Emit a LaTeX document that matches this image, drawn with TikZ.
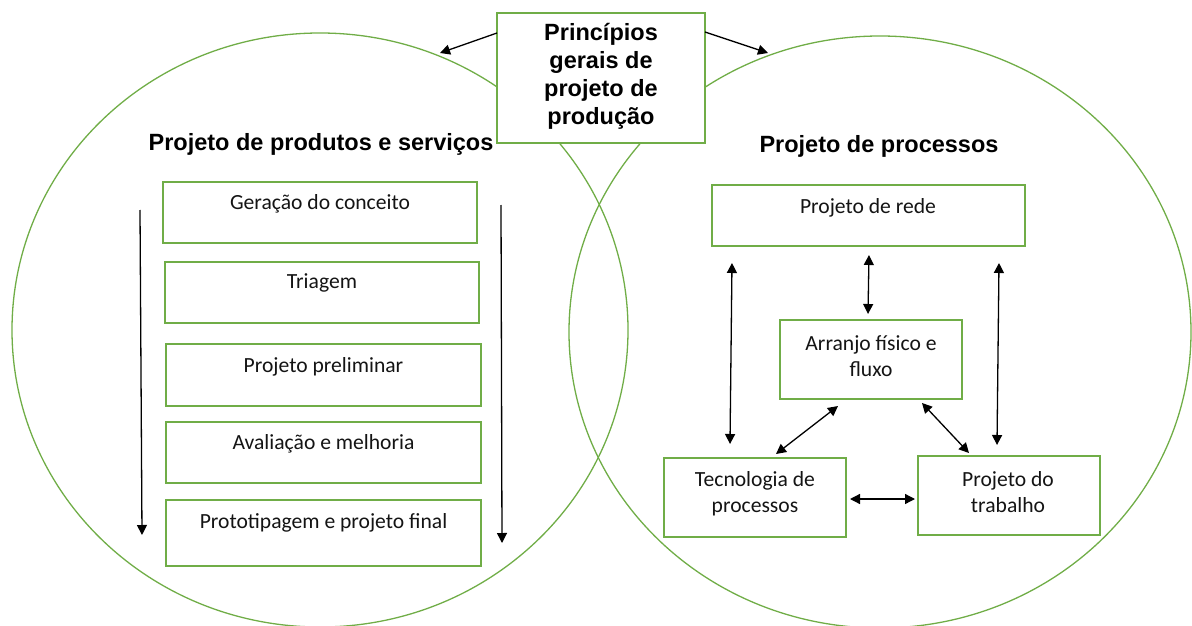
\documentclass[tikz,border=0pt]{standalone}
\usepackage{fontspec}
\setmainfont{Carlito}
\newfontfamily\headfont{Liberation Sans}
\usetikzlibrary{arrows.meta}
\definecolor{grn}{HTML}{70AD47}
\begin{document}
\begin{tikzpicture}[x=1pt,y=-1pt,
  ell/.style={draw=grn, line width=1.3pt},
  gbox/.style={draw=grn, line width=1.6pt, fill=white, rectangle, inner sep=0pt},
  body/.style={font=\fontsize{21.6}{26.4}\selectfont, text=black!92, align=center, inner sep=0pt},
  head/.style={font=\headfont\bfseries\fontsize{23.5}{28}\selectfont, inner sep=0pt, align=center},
  tip/.tip={Triangle[length=10pt,width=10pt]},
  arr/.style={-tip, line width=1.3pt},
  darr/.style={tip-tip, line width=1.3pt}]
\useasboundingbox (0,0) rectangle (1192,626);
\begin{scope}
\clip (0,0) rectangle (1192,626);
\draw[ell] (320,330) ellipse [x radius=308, y radius=297];
\draw[ell] (880,332) ellipse [x radius=311, y radius=296];
\end{scope}

% top box
\node[gbox, minimum width=208, minimum height=130] (top) at (601,78) {};
\node[head] (toptxt) at (601,76) {Princípios\\gerais de\\projeto de\\produção};

% headings
\node[head, anchor=base] (h1) at (321,150) {Projeto de produtos e serviços};
\node[head, anchor=base] (h2) at (879,152) {Projeto de processos};

% left column
\node[gbox, minimum width=314, minimum height=61] (b1) at (320,212.5) {};
\node[gbox, minimum width=314, minimum height=61] (b2) at (322,292.5) {};
\node[gbox, minimum width=315, minimum height=62] (b3) at (323.5,375) {};
\node[gbox, minimum width=315, minimum height=61] (b4) at (323.5,452.5) {};
\node[gbox, minimum width=315, minimum height=66] (b5) at (323.5,533) {};
\node[body, anchor=base] (t1) at (320,209) {Geração do conceito};
\node[body, anchor=base] (t2) at (322,288) {Triagem};
\node[body, anchor=base] (t3) at (323.5,372) {Projeto preliminar};
\node[body, anchor=base] (t4) at (323.5,449) {Avaliação e melhoria};
\node[body, anchor=base] (t5) at (323.5,528) {Prototipagem e projeto final};

% right column
\node[gbox, minimum width=313, minimum height=61] (rede) at (868.5,215.5) {};
\node[body, anchor=base] (tr) at (868,213) {Projeto de rede};
\node[gbox, minimum width=182, minimum height=79] (arr) at (871,359.5) {};
\node[body] (ta) at (871,356) {Arranjo físico e\\fluxo};
\node[gbox, minimum width=182, minimum height=79] (tec) at (755,497.5) {};
\node[body] (tt) at (755,494) {Tecnologia de\\processos};
\node[gbox, minimum width=182, minimum height=79] (trab) at (1009,495.5) {};
\node[body] (tw) at (1008,492) {Projeto do\\trabalho};

% coordinates for connector ends
\coordinate (L1) at (140,210); \coordinate (L2) at (142,535);
\coordinate (R1) at (501,205); \coordinate (R2) at (502,543);
\coordinate (T1) at (497,33);  \coordinate (T2) at (440,53);
\coordinate (T3) at (705,32);  \coordinate (T4) at (768,53);
\coordinate (V1a) at (732,263); \coordinate (V1b) at (730,444);
\coordinate (V2a) at (869,255); \coordinate (V2b) at (868,314);
\coordinate (V3a) at (999,263); \coordinate (V3b) at (997,445);
\coordinate (D1a) at (838,406); \coordinate (D1b) at (776,454);
\coordinate (D2a) at (922,403); \coordinate (D2b) at (969,453);
\coordinate (Ha) at (850,499); \coordinate (Hb) at (915,499);

\draw[arr] (L1) -- (L2);
\draw[arr] (R1) -- (R2);
\draw[arr] (T1) -- (T2);
\draw[arr] (T3) -- (T4);
\draw[darr] (V1a) -- (V1b);
\draw[darr] (V2a) -- (V2b);
\draw[darr] (V3a) -- (V3b);
\draw[darr] (D1a) -- (D1b);
\draw[darr] (D2a) -- (D2b);
\draw[darr] (Ha) -- (Hb);
\end{tikzpicture}
\end{document}
